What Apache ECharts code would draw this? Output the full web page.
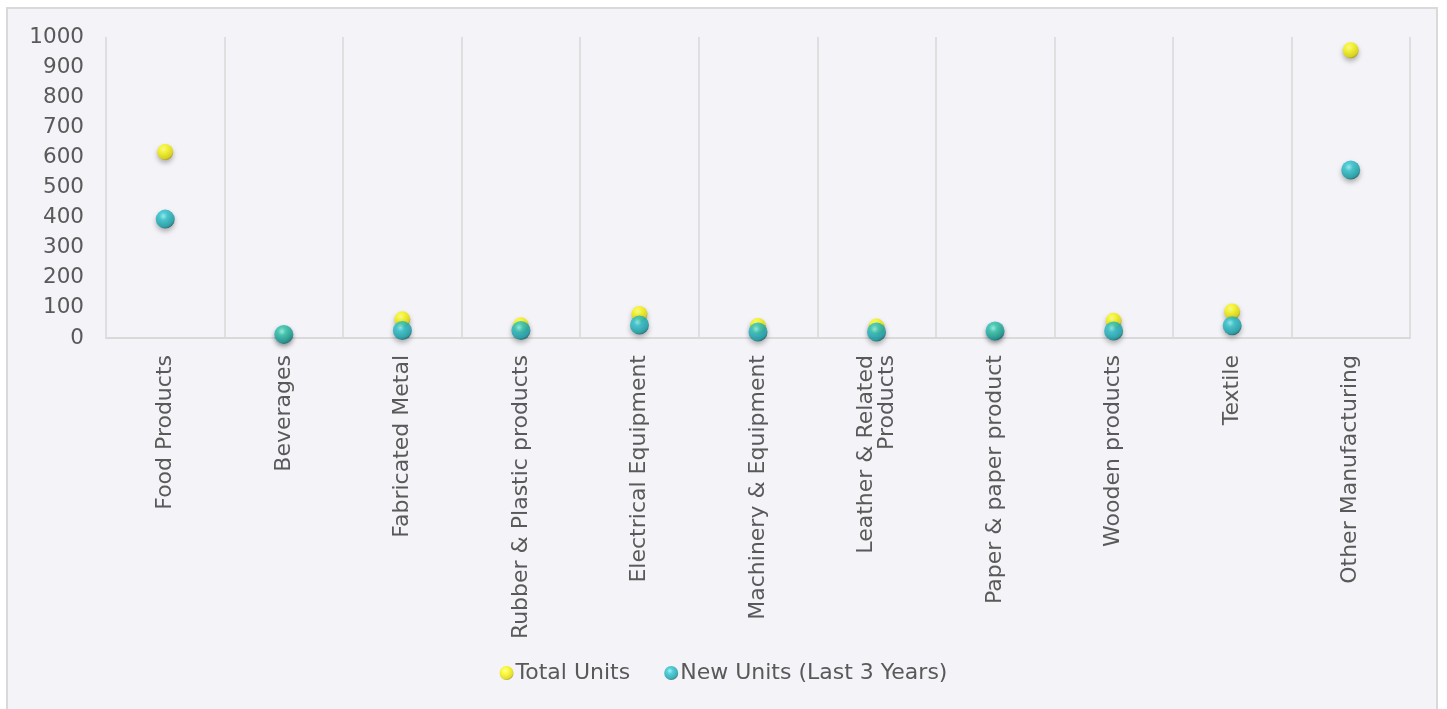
<!DOCTYPE html>
<html>
<head>
<meta charset="utf-8">
<script src="https://cdn.jsdelivr.net/npm/echarts@6/dist/echarts.min.js"></script>
<style>
html,body{margin:0;padding:0;background:#ffffff;overflow:hidden;}
#frame{position:absolute;left:6px;top:7px;width:1432px;height:720px;border:2px solid #d9d9d9;background:#f4f4f8;box-sizing:border-box;}
#chart{position:absolute;left:0;top:0;width:1447px;height:709px;}
</style>
</head>
<body>
<div id="frame"></div>
<div id="chart"></div>
<script>
const categories = ["Food Products","Beverages","Fabricated Metal","Rubber & Plastic products","Electrical Equipment","Machinery & Equipment","Leather & Related\nProducts","Paper & paper product","Wooden products","Textile","Other Manufacturing"];
const totalUnits = [618, 15, 62, 42, 80, 40, 38, 25, 57, 88, 956];
const newUnits = [395, 12, 25, 25, 43, 20, 20, 23, 23, 41, 558];
const seriesNames = ["Total Units", "New Units (Last 3 Years)"];

const chart = echarts.init(document.getElementById('chart'), null, {renderer:'canvas'});
const fontFam = '"DejaVu Sans", sans-serif';
const yellowGrad = new echarts.graphic.RadialGradient(0.4, 0.35, 0.7, [
  {offset:0, color:'#ffffa0'},
  {offset:0.3, color:'#ffff10'},
  {offset:0.8, color:'#e0d600'},
  {offset:1, color:'#8f8600'}
]);
const tealGrad = new echarts.graphic.RadialGradient(0.4, 0.35, 0.7, [
  {offset:0, color:'#8ff4fa'},
  {offset:0.3, color:'#2cc6d0'},
  {offset:0.8, color:'#129aa3'},
  {offset:1, color:'#064a50'}
]);
chart.setOption({
  backgroundColor:'transparent',
  animation:false,
  grid:{left:106, right:37, top:37, bottom:371, containLabel:false},
  legend:{
    bottom:20, left:'center',
    itemWidth:14, itemHeight:14, itemGap:34,
    icon:'circle',
    textStyle:{fontSize:22, color:'#595959', fontFamily:fontFam, padding:[0,0,0,-3]},
    data:seriesNames
  },
  xAxis:{
    type:'category', data:categories, boundaryGap:true,
    axisLine:{show:true, lineStyle:{color:'#d9d9d9', width:2}},
    axisTick:{show:false},
    splitLine:{show:true, lineStyle:{color:'#d9d9d9', width:1.5}},
    axisLabel:{rotate:90, interval:0, margin:17, fontSize:22, color:'#595959', fontFamily:fontFam, lineHeight:21, align:'right'}
  },
  yAxis:{
    type:'value', min:0, max:1000, interval:100,
    axisLine:{show:false}, axisTick:{show:false}, splitLine:{show:false},
    axisLabel:{margin:22, fontSize:21.5, color:'#595959', fontFamily:fontFam, formatter: v => String(v)}
  },
  series:[
    {name:seriesNames[0], type:'scatter', data:totalUnits, symbol:'circle', symbolSize:16,
     itemStyle:{color:yellowGrad, shadowColor:'rgba(0,0,0,0.35)', shadowBlur:5, shadowOffsetY:3}, z:2},
    {name:seriesNames[1], type:'scatter', data:newUnits, symbol:'circle', symbolSize:19,
     itemStyle:{color:tealGrad, shadowColor:'rgba(0,0,0,0.35)', shadowBlur:5, shadowOffsetY:3}, z:3}
  ]
});
</script>
</body>
</html>
